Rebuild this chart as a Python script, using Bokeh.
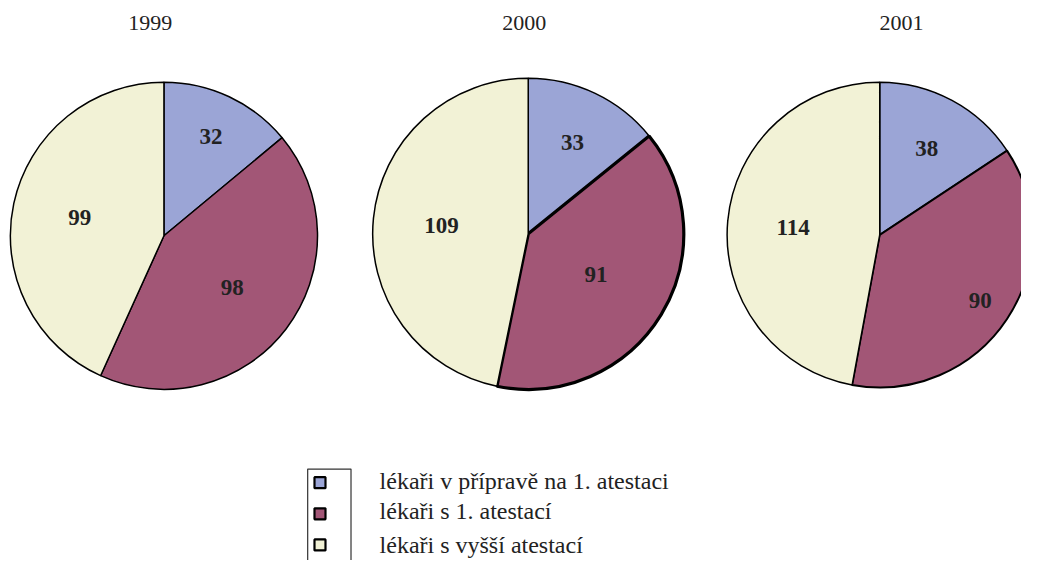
import math
from bokeh.plotting import figure
from bokeh.models import Range1d, ColumnDataSource
from bokeh.core.properties import value
from bokeh.embed import file_html
from bokeh.resources import INLINE

# ---- data ----
years = ["1999", "2000", "2001"]
categories = ["lékaři v přípravě na 1. atestaci", "lékaři s 1. atestací", "lékaři s vyšší atestací"]
v1999 = [32, 98, 99]
v2000 = [33, 91, 109]
v2001 = [38, 90, 114]
series = [v1999, v2000, v2001]

colors = ["#9BA5D6", "#A25676", "#F2F2D6"]
FONT = value("Liberation Serif")

W, H = 1021, 560
RW, RH = 1037, 576  # reference coordinate space


def sy(y):
    # screen y -> data y (data y grows upward)
    return RH - y


p = figure(width=W, height=H, output_backend="svg", toolbar_location=None,
           x_range=Range1d(0, RW), y_range=Range1d(0, RH),
           min_border=0)
p.axis.visible = False
p.grid.visible = False
p.outline_line_color = None
p.background_fill_color = "white"

# layout of pies (reference coords)
centers = [(166, 242), (536, 240), (893, 241)]
radii = [156, 158, 155]
title_x = [152, 532, 915]
# radial distance of labels as fraction of radius (per slice)
label_frac = [[0.72, 0.56, 0.56], [0.66, 0.51, 0.56], [0.65, 0.79, 0.57]]
line_w = [[1.5, 1.5, 1.5], [1.5, 3.2, 1.5], [1.5, 2.0, 1.5]]

for k, vals in enumerate(series):
    cx, cy = centers[k]
    r = radii[k]
    total = sum(vals)
    acc = 0.0
    xs, ys, sa, ea, fc, lw = [], [], [], [], [], []
    lx, ly, lt = [], [], []
    for i, v in enumerate(vals):
        a0 = acc / total * 2 * math.pi
        acc += v
        a1 = acc / total * 2 * math.pi
        sa.append(math.pi / 2 - a1)
        ea.append(math.pi / 2 - a0)
        xs.append(cx)
        ys.append(sy(cy))
        fc.append(colors[i])
        lw.append(line_w[k][i])
        mid = (a0 + a1) / 2
        d = label_frac[k][i] * r
        lx.append(cx + d * math.sin(mid))
        ly.append(sy(cy) + d * math.cos(mid))
        lt.append(str(v))
    src = ColumnDataSource(dict(x=xs, y=ys, sa=sa, ea=ea, fc=fc, lw=lw))
    p.wedge(x="x", y="y", radius=r, start_angle="sa", end_angle="ea",
            fill_color="fc", line_color="black", line_width="lw", source=src)
    p.text(x=lx, y=ly, text=lt, text_font=FONT, text_font_style="bold",
           text_font_size="23px", text_color="#222222",
           text_align="center", text_baseline="middle")
    p.text(x=[title_x[k]], y=[sy(23)], text=[years[k]], text_font=FONT,
           text_font_size="22px", text_color="#222222",
           text_align="center", text_baseline="middle")

# legend box
p.quad(left=[312], right=[356], top=[sy(482)], bottom=[sy(600)],
       fill_color=None, line_color="#333333", line_width=1.2)
leg_y = [496, 528, 560]
text_y = [494, 525, 560]
p.scatter(x=[324.5] * 3, y=[sy(v) for v in leg_y], marker="square", size=11,
          fill_color=colors, line_color="black", line_width=2.2)
p.text(x=[385] * 3, y=[sy(v) for v in text_y], text=categories, text_font=FONT,
       text_font_size="24px", text_color="#222222",
       text_align="left", text_baseline="middle")

open("out.html", "w").write(file_html(p, INLINE))
